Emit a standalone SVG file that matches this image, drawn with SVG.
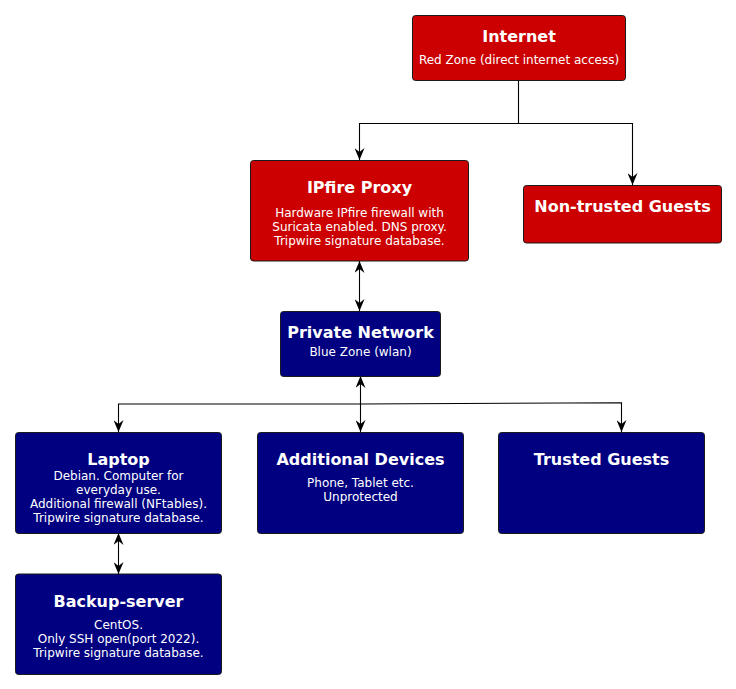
<svg xmlns="http://www.w3.org/2000/svg" width="736" height="689" viewBox="0 0 736 689">
<style>
.red{fill:#CC0000;stroke:#1a1a1a;stroke-width:1}
.blue{fill:#000080;stroke:#1a1a1a;stroke-width:1}
.t{font-family:"DejaVu Sans",sans-serif;font-weight:bold;font-size:16px;fill:#fff;text-anchor:middle}
.b{font-family:"DejaVu Sans",sans-serif;font-size:12px;fill:#fff;text-anchor:middle}
.e{fill:none;stroke:#000;stroke-width:1.1}
</style>
<defs>
<marker id="ah" viewBox="0 0 12 10" refX="12" refY="5" markerWidth="12" markerHeight="10" markerUnits="userSpaceOnUse" orient="auto-start-reverse">
<path d="M0,0 L12,5 L0,10 L4,5 Z" fill="#000"/>
</marker>
</defs>
<rect width="736" height="689" fill="#fff"/>
<g id="connectors">
<path class="e" d="M518.5,80.5 L518.5,123.5 L359.5,123.5 L359.5,160" marker-end="url(#ah)"/>
<path class="e" d="M518.5,123.5 L632.5,123.5 L632.5,185" marker-end="url(#ah)"/>
<path class="e" d="M359.5,261 L359.5,311" marker-start="url(#ah)" marker-end="url(#ah)"/>
<path class="e" d="M360.5,376 L360.5,432" marker-start="url(#ah)" marker-end="url(#ah)"/>
<path class="e" d="M360.5,404 L118.5,404 L118.5,432" marker-end="url(#ah)"/>
<path class="e" d="M360.5,404 L621.5,402.7 L621.5,432" marker-end="url(#ah)"/>
<path class="e" d="M118.5,533 L118.5,574" marker-start="url(#ah)" marker-end="url(#ah)"/>
</g>
<g id="internet">
<rect class="red" x="412.5" y="15.5" width="213" height="65" rx="3"/>
<text class="t" x="519" y="42">Internet</text>
<text class="b" x="519" y="64">Red Zone (direct internet access)</text>
</g>
<g id="ipfire">
<rect class="red" x="250.5" y="160.5" width="218" height="100.5" rx="3"/>
<text class="t" x="359.5" y="193">IPfire Proxy</text>
<text class="b" x="359.5" y="217">Hardware IPfire firewall with</text>
<text class="b" x="359.5" y="231">Suricata enabled. DNS proxy.</text>
<text class="b" x="359.5" y="245">Tripwire signature database.</text>
</g>
<g id="nontrusted">
<rect class="red" x="523.5" y="185.5" width="198" height="57.5" rx="3"/>
<text class="t" x="622.5" y="211.5">Non-trusted Guests</text>
</g>
<g id="private">
<rect class="blue" x="280.5" y="311.5" width="160" height="65" rx="3"/>
<text class="t" x="360.5" y="338">Private Network</text>
<text class="b" x="360.5" y="355.5">Blue Zone (wlan)</text>
</g>
<g id="laptop">
<rect class="blue" x="15.5" y="432.5" width="206" height="101" rx="3"/>
<text class="t" x="118.5" y="465">Laptop</text>
<text class="b" x="118.5" y="480">Debian. Computer for</text>
<text class="b" x="118.5" y="494">everyday use.</text>
<text class="b" x="118.5" y="508">Additional firewall (NFtables).</text>
<text class="b" x="118.5" y="522">Tripwire signature database.</text>
</g>
<g id="additional">
<rect class="blue" x="257.5" y="432.5" width="206" height="101" rx="3"/>
<text class="t" x="360.5" y="465">Additional Devices</text>
<text class="b" x="360.5" y="487">Phone, Tablet etc.</text>
<text class="b" x="360.5" y="501">Unprotected</text>
</g>
<g id="trusted">
<rect class="blue" x="498.5" y="432.5" width="206" height="101" rx="3"/>
<text class="t" x="601.5" y="465">Trusted Guests</text>
</g>
<g id="backup">
<rect class="blue" x="15.5" y="574" width="206" height="100.5" rx="3"/>
<text class="t" x="118.5" y="606.5">Backup-server</text>
<text class="b" x="118.5" y="628.5">CentOS.</text>
<text class="b" x="118.5" y="642.5">Only SSH open(port 2022).</text>
<text class="b" x="118.5" y="656.5">Tripwire signature database.</text>
</g>
</svg>
